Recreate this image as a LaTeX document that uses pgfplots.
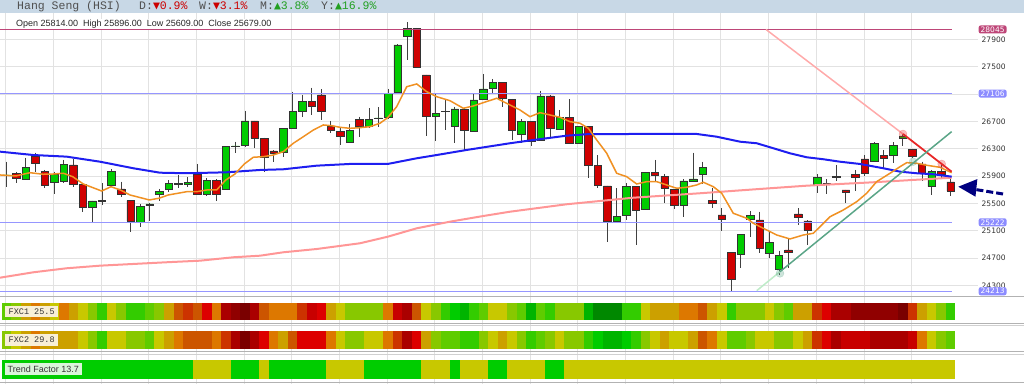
\documentclass[border=0pt]{standalone}
\usepackage{fontspec}
\setmainfont{Liberation Sans}
\newfontfamily\hdrfont{Liberation Mono}
\newfontfamily\tickfont{DejaVu Sans}
\newfontfamily\symfont{DejaVu Sans Mono}
\usepackage{pgfplots}
\usepackage{pgfplotstable}
\pgfplotsset{compat=1.18}

\definecolor{hdrbg}{RGB}{200,216,230}
\definecolor{hdrtxt}{RGB}{80,80,80}
\definecolor{hred}{RGB}{204,0,0}
\definecolor{hgreen}{RGB}{34,160,34}
\definecolor{gridc}{RGB}{226,226,226}
\definecolor{tickc}{RGB}{51,51,51}
\definecolor{cgreen}{RGB}{0,204,0}
\definecolor{cred}{RGB}{208,0,0}
\definecolor{outl}{RGB}{51,51,51}
\definecolor{wickc}{RGB}{64,64,64}
\definecolor{maorange}{RGB}{240,145,35}
\definecolor{mablue}{RGB}{30,30,240}
\definecolor{mapink}{RGB}{255,150,150}
\definecolor{levmag}{RGB}{190,70,120}
\definecolor{levblue}{RGB}{150,150,255}
\definecolor{lblblue}{RGB}{140,140,255}
\definecolor{tlpink}{RGB}{255,170,170}
\definecolor{tlred}{RGB}{232,40,40}
\definecolor{tlgreen}{RGB}{90,165,135}
\definecolor{tlgreenlt}{RGB}{190,235,200}
\definecolor{navyc}{RGB}{0,0,128}
\definecolor{sepc}{RGB}{178,178,178}
\definecolor{sepc2}{RGB}{208,208,208}
\definecolor{creamc}{RGB}{248,239,214}
\definecolor{mintc}{RGB}{218,245,218}
\definecolor{cDG}{RGB}{0,136,0}
\definecolor{cG2}{RGB}{0,180,0}
\definecolor{cGB}{RGB}{0,204,0}
\definecolor{cGG}{RGB}{51,204,0}
\definecolor{cLM}{RGB}{95,204,0}
\definecolor{cYG}{RGB}{136,200,0}
\definecolor{cYY}{RGB}{200,200,0}
\definecolor{cMU}{RGB}{204,160,0}
\definecolor{cOR}{RGB}{221,120,0}
\definecolor{cDO}{RGB}{204,85,0}
\definecolor{cRO}{RGB}{204,51,0}
\definecolor{cRR}{RGB}{221,0,0}
\definecolor{cR2}{RGB}{200,0,0}
\definecolor{cDR}{RGB}{170,0,0}
\definecolor{cDD}{RGB}{144,0,0}
\definecolor{cXR}{RGB}{122,0,0}

\pgfdeclareplotmark{cellA}{\pgfpathrectangle{\pgfpoint{-4.8pt}{-8.5pt}}{\pgfpoint{9.6pt}{17pt}}\pgfusepathqfill}
\pgfdeclareplotmark{cellB}{\pgfpathrectangle{\pgfpoint{-4.8pt}{-9.25pt}}{\pgfpoint{9.6pt}{18.5pt}}\pgfusepathqfill}
\pgfdeclareplotmark{cellC}{\pgfpathrectangle{\pgfpoint{-4.8pt}{-9.75pt}}{\pgfpoint{9.6pt}{19.5pt}}\pgfusepathqfill}

\pgfplotstableread{
i o h l c
0 25910 26109 25743 25915
1 25940 25963 25793 25860
2 25856 26168 25841 26022
3 26183 26241 25963 26086
4 25963 25988 25720 25758
5 25808 25963 25636 25929
6 25817 26134 25793 26071
7 26061 26144 25743 25778
8 25778 25790 25377 25436
9 25436 25540 25231 25534
10 25530 25793 25475 25540
11 25758 26002 25740 25963
12 25710 25817 25597 25636
13 25539 25545 25075 25241
14 25227 25485 25149 25451
15 25465 25509 25241 25490
16 25632 25710 25534 25676
17 25705 25841 25670 25793
18 25797 25915 25720 25773
19 25773 25880 25743 25807
20 25929 26076 25630 25636
21 25636 25871 25607 25841
22 25841 25850 25539 25636
23 25710 26335 25700 26329
24 26330 26402 26241 26340
25 26344 26852 26330 26705
26 26705 26710 26305 26452
27 26452 26460 25954 26168
28 26266 26280 26109 26232
29 26241 26600 26180 26598
30 26598 27134 26590 26841
31 26841 27086 26768 26988
32 26988 27193 26793 26925
33 27086 27169 26720 26841
34 26632 26705 26525 26573
35 26549 26622 26354 26486
36 26393 26661 26380 26573
37 26734 26768 26476 26632
38 26622 26891 26600 26734
39 26740 26905 26612 26750
40 26753 27174 26740 27110
41 27125 27830 27110 27818
42 27942 28148 27598 28064
43 28064 28070 27480 27489
44 27379 27385 26490 26768
45 26768 27110 26417 26817
46 26840 27013 26573 26845
47 26632 26915 26388 26881
48 26876 26890 26281 26563
49 26559 27100 26550 27013
50 27027 27393 27020 27174
51 27187 27320 27110 27266
52 27266 27275 26915 27039
53 27023 27030 26427 26573
54 26510 26730 26378 26695
55 26695 26700 26344 26412
56 26417 27149 26410 27071
57 27071 27080 26476 26598
58 26583 26866 26575 26754
59 26754 27023 26368 26378
60 26378 26630 26370 26622
61 26622 26630 25866 26061
62 26051 26207 25720 25768
63 25754 25760 24938 25241
64 25241 25720 25230 25304
65 25319 25793 25256 25743
66 25743 25750 24890 25402
67 25412 25960 25400 25954
68 25954 26134 25817 25904
69 25890 25930 25500 25720
70 25705 25712 25412 25465
71 25465 25850 25304 25827
72 25827 26241 25820 25856
73 25925 26109 25778 26022
74 25544 25720 25427 25495
75 25329 25427 25100 25270
76 24777 24785 24206 24388
77 24753 25050 24549 25046
78 25270 25387 25012 25324
79 25256 25377 24768 24841
80 24768 25075 24695 24929
81 24534 24807 24451 24743
82 24817 24988 24549 24783
83 25344 25427 25183 25295
84 25241 25250 24890 25109
85 25768 25929 25646 25881
86 25780 25851 25636 25790
87 25885 26061 25827 25895
88 25695 25700 25500 25656
89 25925 25988 25680 25881
90 26149 26207 25900 25939
91 26120 26393 26110 26378
92 26197 26281 26013 26159
93 26207 26393 26085 26344
94 26452 26525 26339 26486
95 26290 26300 26170 26183
96 26076 26109 25831 25939
97 25743 25988 25622 25963
98 25963 26071 25856 25925
99 25814 25896 25609 25679
}\candles

\pgfplotstableread{
x p
-0.70 26256
2.79 26207
6.29 26183
9.79 26109
13.28 26013
16.08 25948
18.88 25940
23.07 25954
26.57 25988
29.01 25998
32.51 26051
36.00 26076
39.96 26076
43.00 26159
45.10 26207
48.24 26281
52.78 26379
55.23 26427
58.73 26490
60.83 26511
65.72 26515
72.36 26515
74.46 26475
76.91 26402
78.66 26379
80.40 26306
82.15 26232
83.90 26174
85.65 26145
87.39 26109
89.49 26076
91.94 26013
93.69 25963
95.43 25940
97.18 25925
99.11 25890
}\bluema

\pgfplotstableread{
x p
-0.70 25915
0.94 25900
2.44 25948
3.84 25925
4.89 25929
5.94 25940
6.92 25890
8.03 25783
9.96 25680
10.94 25743
11.91 25695
12.93 25622
14.96 25549
15.97 25574
16.95 25622
18.88 25670
19.93 25670
20.98 25695
22.02 25695
22.97 25841
23.94 25929
24.92 26076
25.86 26174
26.91 26183
27.96 26207
29.01 26256
30.06 26379
31.11 26475
32.16 26573
33.20 26647
34.08 26636
34.96 26613
36.00 26598
37.05 26607
38.10 26622
39.15 26672
39.96 26754
40.90 26915
41.95 27207
43.00 27247
44.05 27134
45.10 27061
46.49 27002
47.89 26891
48.94 26925
49.98 26973
51.39 27038
52.78 26939
53.83 26866
54.88 26768
55.93 26827
56.98 26793
58.03 26759
59.08 26695
60.13 26672
61.00 26598
61.88 26427
62.93 26232
63.97 25940
65.02 25890
66.07 25783
67.12 25817
68.17 25817
69.22 25768
70.27 25720
71.32 25735
72.36 25768
73.06 25808
74.11 25743
74.99 25647
76.20 25354
77.61 25281
78.30 25208
79.71 25109
80.76 25036
82.15 24978
83.55 25036
84.60 25061
85.30 25158
86.35 25304
87.74 25402
89.15 25524
90.19 25647
91.24 25817
92.64 25940
93.69 26036
94.39 26095
95.44 26086
96.49 26057
97.88 26027
99.11 25948
}\orangema

\pgfplotstableread{
x p
-0.70 24411
2.79 24490
6.29 24549
9.79 24587
13.28 24612
16.78 24637
20.27 24660
23.77 24710
26.57 24733
29.01 24783
32.51 24831
37.05 24915
39.96 25011
43.00 25134
46.49 25231
49.98 25314
52.78 25377
58.73 25486
65.72 25582
72.71 25647
79.00 25710
83.90 25758
90.89 25808
99.11 25875
}\pinkma

\pgfplotstableread{
i a b t
0 LM YG GB
1 YG YY GB
2 MU MU GB
3 OR OR GB
4 MU MU GB
5 YY MU GB
6 OR MU GB
7 MU MU GB
8 YY YY GB
9 YG YG GB
10 GG GG GB
11 YY YY GB
12 YG YY GB
13 GG YG GB
14 GG YG GB
15 LM LM GB
16 YG YY GB
17 MU MU GB
18 DO OR GB
19 RO DO GB
20 DO DO YY
21 RR DO YY
22 OR OR YY
23 DR RO YY
24 DD DR GB
25 XR XR GB
26 DR DR GB
27 DO RR YY
28 OR OR GB
29 OR MU GB
30 OR DO GB
31 RO RR GB
32 R2 RR GB
33 RR RR GB
34 MU OR YY
35 YY YY YY
36 YG YG YY
37 YG YG YY
38 YG YY GB
39 YG YY GB
40 OR OR GB
41 R2 RO GB
42 DR DR GB
43 DO RR GB
44 YY MU YY
45 YG YG YY
46 GG LM YY
47 GB LM GB
48 G2 GG YY
49 GG GG YY
50 LM YG YY
51 YY YY GB
52 YY MU GB
53 YG YY YY
54 LM YG YY
55 G2 GG YY
56 LM LM YY
57 GG YG GB
58 YG YY GB
59 YG YG YY
60 YG YG YY
61 G2 GG YY
62 DG GB YY
63 DG G2 YY
64 DG G2 YY
65 GG GB YY
66 GG GG YY
67 YY YG YY
68 MU YY YY
69 MU MU YY
70 MU YY YY
71 OR YY YY
72 OR MU YY
73 DO DO YY
74 MU OR YY
75 YY YY YY
76 GG LM YY
77 YG LM YY
78 YG YG YY
79 YG YY YY
80 YY YY YY
81 YG YG YY
82 LM YG YY
83 MU YY YY
84 MU MU YY
85 RO RO YY
86 RR RR YY
87 DR DR YY
88 DR R2 YY
89 DD R2 YY
90 DD R2 YY
91 DD DR YY
92 DD DR YY
93 DD DR YY
94 XR DR YY
95 RO R2 YY
96 MU OR YY
97 YY YY YY
98 YG YG YY
99 GG LM YY
}\strips

\pgfplotsset{
  mainax/.style={scale only axis, width=955pt, height=283pt,
    at={(0pt,-13pt)}, anchor=north west,
    xmin=-0.7027, xmax=99.456, ymin=24143, ymax=28286},
  stripcls/.style={scatter, only marks, scatter src=explicit symbolic,
    scatter/classes={DG={fill=cDG},G2={fill=cG2},GB={fill=cGB},GG={fill=cGG},
      LM={fill=cLM},YG={fill=cYG},YY={fill=cYY},MU={fill=cMU},OR={fill=cOR},
      DO={fill=cDO},RO={fill=cRO},RR={fill=cRR},R2={fill=cR2},DR={fill=cDR},
      DD={fill=cDD},XR={fill=cXR}}},
}
\tikzset{
  lblbox/.style={font=\tickfont\fontsize{7.5}{8}\selectfont, text=white,
    rounded corners=2pt, inner xsep=2pt, inner ysep=1.2pt, xshift=37.6pt},
}

\begin{document}
\begin{tikzpicture}
\path[use as bounding box] (0,0) rectangle (1024pt,-385pt);
\fill[hdrbg] (0,0) rectangle (1024pt,-12.7pt);

% ---------- background: grid and wicks
\begin{axis}[mainax,
  axis line style={draw=none},
  scaled y ticks=false, scaled x ticks=false,
  xtick={-0.1,4.9,...,94.9}, xticklabels={},
  ytick={24300,24700,25100,25500,25900,26300,26700,27100,27500,27900},
  yticklabels={24300,24700,25100,25500,25900,26300,26700,27100,27500,27900},
  ytick pos=right, major tick length=0pt,
  yticklabel style={font=\tickfont\fontsize{7.5}{8}\selectfont, text=tickc,
    anchor=west, inner sep=0pt, xshift=26.5pt},
  xmajorgrids, ymajorgrids, grid style={gridc, line width=0.8pt}]
\addplot[draw=none, mark=none,
  error bars/.cd, y dir=minus, y explicit, error mark=none,
  error bar style={draw=wickc, solid, line width=1pt}]
  table[x=i, y=h, y error minus expr=\thisrow{h}-\thisrow{l}] {\candles};
\end{axis}

% ---------- candle bodies
\begin{axis}[mainax, hide axis, ybar stacked, bar width=7.5pt]
\addplot[draw=none, fill=none] table[x=i, y expr={min(\thisrow{o},\thisrow{c})}] {\candles};
\addplot[fill=cgreen, draw=outl, line width=0.7pt] table[x=i, y expr={max(\thisrow{c}-\thisrow{o},0)}] {\candles};
\addplot[fill=cred, draw=outl, line width=0.7pt] table[x=i, y expr={max(\thisrow{o}-\thisrow{c},0)}] {\candles};
\end{axis}

% ---------- overlays
\begin{axis}[mainax, hide axis, clip=false]
\pgfplotsinvokeforeach{24300,24700,25100,25500,25900,26300,26700,27100,27500,27900}{
  \fill[gridc] (axis cs:99.456,#1-6) rectangle (axis cs:101.9,#1+6);
}
\fill[levmag] (axis cs:-0.7027,28035) rectangle (axis cs:99.1,28055);
\fill[levblue] (axis cs:-0.7027,27096) rectangle (axis cs:99.1,27116);
\fill[levblue] (axis cs:-0.7027,25212) rectangle (axis cs:99.1,25232);
\fill[levblue] (axis cs:-0.7027,24203) rectangle (axis cs:99.1,24223);
\addplot[draw=mapink, mark=none, line width=2pt] table[x=x, y=p] {\pinkma};
\addplot[draw=mablue, mark=none, line width=2pt] table[x=x, y=p] {\bluema};
\addplot[draw=maorange, mark=none, line width=1.5pt] table[x=x, y=p] {\orangema};
\addplot[draw=tlpink, mark=none, line width=1.5pt] coordinates {(79.63,28045) (94.0,26515)};
\addplot[draw=tlred, mark=none, line width=1.8pt] coordinates {(94.0,26515) (99.1,25963)};
\addplot[draw=tlgreenlt, mark=none, line width=1.5pt] coordinates {(78.66,24221) (81.1,24499)};
\addplot[draw=tlgreen, mark=none, line width=1.5pt] coordinates {(81.1,24499) (99.1,26549)};
\addplot[only marks, mark=*, mark size=4pt, color=tlred, opacity=0.3] coordinates {(94.0,26515) (98.06,26076)};
\addplot[only marks, mark=*, mark size=4pt, color=tlgreen, opacity=0.3] coordinates {(81.1,24475) (95.05,26109)};
\fill[navyc] (axis cs:99.8,25743) -- (axis cs:101.8,25855) -- (axis cs:101.6,25597) -- cycle;
\draw[navyc, line width=3pt, dash pattern=on 7pt off 3pt] (axis cs:101.7,25700) -- (axis cs:104.5,25636);
\node[lblbox, fill=levmag] at (axis cs:99.456,28045) {28045};
\node[lblbox, fill=lblblue] at (axis cs:99.456,27106) {27106};
\node[lblbox, fill=lblblue] at (axis cs:99.456,25222) {25222};
\node[lblbox, fill=lblblue] at (axis cs:99.456,24213) {24213};
\end{axis}

% ---------- indicator strips
\begin{axis}[scale only axis, width=955pt, height=88pt, at={(0pt,-296pt)}, anchor=north west,
  xmin=-0.7027, xmax=99.456, ymin=0, ymax=88, y dir=reverse,
  axis line style={draw=none}, xtick={-0.1,4.9,...,94.9}, xticklabels={}, ytick=\empty,
  major tick length=0pt, xmajorgrids, grid style={gridc, line width=0.8pt}, clip=false]
\fill[sepc] (axis cs:-0.7027,0.2) rectangle (axis cs:106.7,1.2);
\fill[sepc] (axis cs:-0.7027,26.8) rectangle (axis cs:106.7,27.8);
\fill[sepc2] (axis cs:-0.7027,29) rectangle (axis cs:106.7,30);
\fill[sepc] (axis cs:-0.7027,55) rectangle (axis cs:106.7,56);
\fill[sepc2] (axis cs:-0.7027,57.7) rectangle (axis cs:106.7,58.7);
\fill[sepc] (axis cs:-0.7027,86) rectangle (axis cs:106.7,87);
\addplot[stripcls, mark=cellA] table[x=i, y expr=15.5, meta=a] {\strips};
\addplot[stripcls, mark=cellB] table[x=i, y expr=43.75, meta=b] {\strips};
\addplot[stripcls, mark=cellC] table[x=i, y expr=73.25, meta=t] {\strips};
\end{axis}

% ---------- strip labels
\node[fill=creamc, minimum width=53pt, minimum height=11pt, inner sep=0pt,
  font=\hdrfont\fontsize{8.5}{9}\selectfont, text=tickc] at (31.7pt,-311.8pt) {FXC1 25.5};
\node[fill=creamc, minimum width=53pt, minimum height=11.5pt, inner sep=0pt,
  font=\hdrfont\fontsize{8.5}{9}\selectfont, text=tickc] at (31.7pt,-339.9pt) {FXC2 29.8};
\node[fill=mintc, minimum width=76.7pt, minimum height=12.3pt, inner sep=0pt,
  font=\fontsize{9}{10}\selectfont, text=tickc] at (43.3pt,-369.2pt) {Trend Factor 13.7};

% ---------- header
\node[anchor=base west, inner sep=0pt, text=hdrtxt, font=\hdrfont\fontsize{11.5}{12}\selectfont] at (17pt,-9.7pt) {Hang Seng (HSI)};
\node[anchor=base west, inner sep=0pt, text=hdrtxt, font=\hdrfont\fontsize{11.5}{12}\selectfont] at (139pt,-9.7pt) {D:\textcolor{hred}{{\symfont ▼}0.9\%}};
\node[anchor=base west, inner sep=0pt, text=hdrtxt, font=\hdrfont\fontsize{11.5}{12}\selectfont] at (199pt,-9.7pt) {W:\textcolor{hred}{{\symfont ▼}3.1\%}};
\node[anchor=base west, inner sep=0pt, text=hdrtxt, font=\hdrfont\fontsize{11.5}{12}\selectfont] at (260pt,-9.7pt) {M:\textcolor{hgreen}{{\symfont ▲}3.8\%}};
\node[anchor=base west, inner sep=0pt, text=hdrtxt, font=\hdrfont\fontsize{11.5}{12}\selectfont] at (321pt,-9.7pt) {Y:\textcolor{hgreen}{{\symfont ▲}16.9\%}};
\node[anchor=base west, inner sep=1pt, fill=white, text=black!85, font=\fontsize{9}{10}\selectfont] at (15pt,-26.3pt)
  {Open 25814.00\hspace{5pt}High 25896.00\hspace{5pt}Low 25609.00\hspace{5pt}Close 25679.00};
\end{tikzpicture}
\end{document}
